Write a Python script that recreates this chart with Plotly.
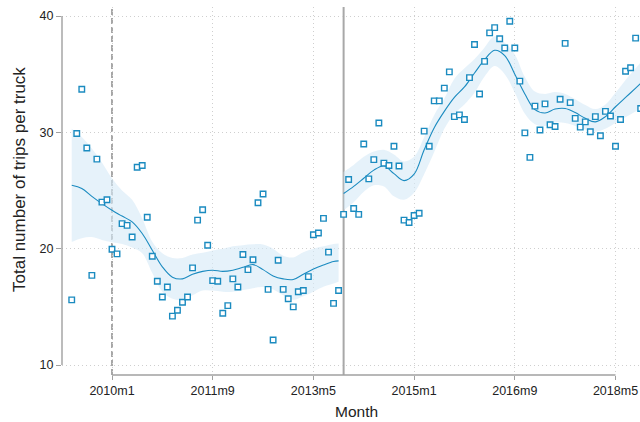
import plotly.graph_objects as go

# ---------------- data ----------------
first_month = "2009m5"
trips = [15.6, 29.9, 33.7, 28.65, 17.7, 27.7, 24.0, 24.2, 19.95, 19.55,
         22.15, 22.0, 21.0, 27.0, 27.15, 22.7, 19.35, 17.2, 15.85, 16.7,
         14.2, 14.7, 15.4, 15.85, 18.35, 22.45, 23.35, 20.3, 17.25, 17.2,
         14.45, 15.1, 17.4, 16.7, 19.5, 18.2, 19.05, 23.95, 24.7, 16.5,
         12.15, 19.0, 16.5, 15.7, 15.0, 16.3, 16.4, 17.6, 21.2, 21.35,
         22.6, 19.7, 15.3, 16.4, 22.95, 25.95, 23.45, 22.95, 29.0, 26.0,
         27.65, 30.8, 27.35, 27.15, 28.8, 27.1, 22.45, 22.25, 22.85, 23.05,
         30.1, 28.8, 32.7, 32.7, 33.8, 35.2, 31.35, 31.5, 31.1, 34.7,
         37.55, 33.3, 36.1, 38.55, 39.0, 38.05, 37.25, 39.55, 37.25, 34.4,
         29.95, 27.85, 32.25, 30.2, 32.45, 30.65, 30.5, 32.85, 37.65, 32.55,
         31.2, 30.45, 30.9, 30.05, 31.35, 29.7, 31.8, 31.4, 28.8, 31.1,
         35.25, 35.55, 38.1, 32.05]

fit_left_months = ["2009m5", "2009m7", "2009m9", "2009m11", "2010m1", "2010m3",
                   "2010m5", "2010m7", "2010m9", "2010m11", "2011m1", "2011m3",
                   "2011m5", "2011m7", "2011m9", "2011m11", "2012m1", "2012m3",
                   "2012m5", "2012m7", "2012m9", "2012m11", "2013m1", "2013m3",
                   "2013m5", "2013m7", "2013m9", "2013m10"]
fit_left = [25.45, 25.17, 24.5, 23.87, 23.3, 22.8, 22.3, 21.3, 19.87, 18.44,
            17.55, 17.4, 17.8, 18.05, 18.15, 18.05, 18.15, 18.4, 18.63, 18.2,
            17.65, 17.4, 17.35, 17.8, 18.25, 18.6, 18.9, 18.95]
ci_left_hi = [30.3, 29.6, 28.6, 27.4, 26.05, 25.0, 24.2, 22.6, 20.6, 19.6,
              19.2, 19.2, 19.5, 19.65, 19.85, 20.0, 20.2, 20.3, 20.38, 20.35,
              20.0, 19.4, 19.25, 19.7, 20.0, 20.2, 20.4, 20.44]
ci_left_lo = [20.58, 20.9, 21.0, 20.75, 20.55, 20.4, 20.1, 19.6, 17.9, 16.3,
              15.7, 15.6, 16.0, 16.4, 16.4, 16.3, 16.3, 16.44, 16.6, 16.7,
              16.5, 16.0, 15.6, 15.9, 16.3, 16.72, 17.0, 17.15]

fit_right_months = ["2013m11", "2014m1", "2014m3", "2014m5", "2014m7", "2014m9",
                    "2014m11", "2015m1", "2015m3", "2015m5", "2015m7", "2015m9",
                    "2015m11", "2016m1", "2016m3", "2016m5", "2016m7", "2016m9",
                    "2016m11", "2017m1", "2017m3", "2017m5", "2017m7", "2017m9",
                    "2017m11", "2018m1", "2018m3", "2018m5", "2018m7", "2018m9",
                    "2018m10"]
fit_right = [24.74, 25.35, 26.05, 26.75, 27.1, 26.45, 25.85, 26.4, 28.5, 30.4,
             31.8, 33.0, 33.9, 35.1, 36.25, 37.05, 36.6, 35.0, 33.3, 31.95,
             31.66, 32.0, 32.05, 31.7, 31.2, 30.9, 31.35, 32.2, 33.0, 33.8, 34.2]
ci_right_hi = [26.6, 27.2, 27.9, 28.35, 28.5, 28.1, 27.5, 27.9, 29.6, 31.5,
               32.9, 34.6, 35.5, 36.3, 37.3, 38.25, 37.7, 36.7, 34.75, 33.5,
               33.3, 33.46, 33.3, 32.85, 32.35, 32.0, 32.4, 33.4, 34.5, 35.5, 36.0]
ci_right_lo = [23.3, 24.0, 24.9, 25.45, 25.35, 24.5, 24.2, 24.8, 26.4, 28.3,
               30.3, 31.6, 32.4, 33.4, 34.8, 35.7, 35.0, 33.4, 31.6, 30.7,
               30.55, 30.85, 30.8, 30.55, 30.25, 30.05, 30.3, 30.8, 31.3, 31.8, 32.0]

tick_labels = ["2010m1", "2011m9", "2013m5", "2015m1", "2016m9", "2018m5"]
dashed_line_month = "2010m1"
solid_line_month = "2013m11"
y_ticks = [10, 20, 30, 40]


def tm(s):
    """Stata %tm month number from 'YYYYmM'."""
    y, m = s.split("m")
    return (int(y) - 1960) * 12 + int(m) - 1


x_pts = [tm(first_month) + i for i in range(len(trips))]

BLUE = "#1b8bc0"
BAND = "rgba(214,234,246,0.6)"
GRID = "#cfcfcf"
AXIS = "#a0a0a0"
FONT = "Liberation Sans, Arial, sans-serif"

fig = go.Figure()


def add_band(months, lo, hi, fit):
    xs = [tm(m) for m in months]
    fig.add_trace(go.Scatter(x=xs, y=lo, mode="lines", line=dict(width=0, shape="spline"),
                             hoverinfo="skip", showlegend=False))
    fig.add_trace(go.Scatter(x=xs, y=hi, mode="lines", line=dict(width=0, shape="spline"),
                             fill="tonexty", fillcolor=BAND, hoverinfo="skip", showlegend=False))
    fig.add_trace(go.Scatter(x=xs, y=fit, mode="lines",
                             line=dict(width=1.1, color=BLUE, shape="spline"), showlegend=False))


add_band(fit_left_months, ci_left_lo, ci_left_hi, fit_left)
add_band(fit_right_months, ci_right_lo, ci_right_hi, fit_right)

fig.add_trace(go.Scatter(x=x_pts, y=trips, mode="markers",
                         marker=dict(symbol="square", size=5.5, color="white",
                                     line=dict(color=BLUE, width=1.4)),
                         showlegend=False))

shapes = [
    dict(type="line", xref="x", yref="paper", x0=tm(dashed_line_month), x1=tm(dashed_line_month),
         y0=0, y1=1, line=dict(color="#8a8a8a", width=1.5, dash="6px,3px"), layer="between"),
    dict(type="line", xref="x", yref="paper", x0=tm(solid_line_month), x1=tm(solid_line_month),
         y0=0, y1=1, line=dict(color="#a8a8a8", width=2), layer="between"),
    dict(type="line", xref="paper", yref="y", x0=0, x1=0, y0=y_ticks[0], y1=y_ticks[-1],
         line=dict(color=AXIS, width=1.4), layer="above"),
    dict(type="line", xref="x", yref="paper", x0=tm(tick_labels[0]), x1=tm(tick_labels[-1]),
         y0=0, y1=0, line=dict(color=AXIS, width=1.4), layer="above"),
]

px_per_month = 5.035
px_per_unit = 11.633
fig.update_layout(
    width=640, height=422,
    margin=dict(l=62, r=0, t=7, b=47),
    paper_bgcolor="white", plot_bgcolor="white",
    font=dict(family=FONT, size=12, color="#222"),
    shapes=shapes,
    xaxis=dict(range=[tm("2010m1") - 50 / px_per_month, tm("2010m1") + 528 / px_per_month],
               tickvals=[tm(t) for t in tick_labels], ticktext=tick_labels,
               showgrid=True, gridcolor=GRID, griddash="1px,3px", gridwidth=1,
               ticks="outside", ticklen=4, tickcolor=AXIS, tickwidth=1.2,
               showline=False, zeroline=False, tickfont=dict(size=12.5)),
    yaxis=dict(range=[10 - 10 / px_per_unit, 40 + 9 / px_per_unit],
               tickvals=y_ticks,
               showgrid=True, gridcolor=GRID, griddash="1px,3px", gridwidth=1,
               ticks="outside", ticklen=5, tickcolor=AXIS, tickwidth=1.2,
               showline=False, zeroline=False, tickfont=dict(size=12.5)),
    annotations=[
        dict(text="Month", xref="paper", yref="paper", x=(356 - 62) / 578, y=-(411 - 375) / 368,
             showarrow=False, font=dict(size=15.5), xanchor="center", yanchor="middle"),
        dict(text="Total number of trips per truck", xref="paper", yref="paper",
             x=(19 - 62) / 578, y=(375 - 180) / 368, textangle=-90,
             showarrow=False, font=dict(size=17), xanchor="center", yanchor="middle"),
    ],
)

fig.write_html("out.html", config={"displayModeBar": False})

# remove the browser's default page margin so the figure sits at the window origin
with open("out.html", "r", encoding="utf-8") as f:
    html = f.read()
html = html.replace("<head>", "<head><style>html,body{margin:0;padding:0;overflow:hidden;}</style>", 1)
with open("out.html", "w", encoding="utf-8") as f:
    f.write(html)
